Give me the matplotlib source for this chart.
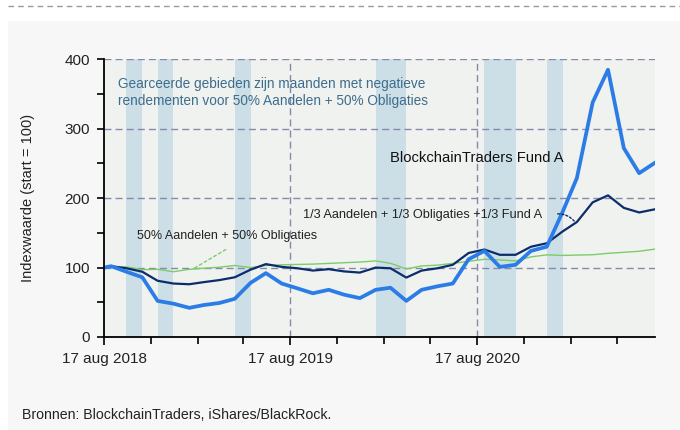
import matplotlib
matplotlib.use('Agg')
import matplotlib.pyplot as plt
from matplotlib.patches import Rectangle
from matplotlib.lines import Line2D
import pandas as pd

plt.rcParams['font.family'] = ['Liberation Sans', 'DejaVu Sans']

# data: start date, then month-end values
dates = [pd.Timestamp('2018-08-17')] + list(pd.date_range('2018-08-31', '2021-07-31', freq='ME'))

fund_a = [100, 102, 94, 86, 52, 48, 42, 46, 49, 55, 78, 92, 77, 70, 63, 68, 61, 56,
          68, 71, 52, 68, 73, 77, 112, 124, 101, 104, 124, 130, 180, 229, 338, 385,
          272, 236, 251]
mix_third = [100, 102, 99, 94, 81, 77, 76, 79, 82, 86, 97, 105, 101, 99, 95.7, 97.7,
             94.5, 92.8, 100, 99, 85.6, 95.7, 99, 104, 121, 126, 118.4, 118.4, 130,
             135, 152, 165.6, 194, 204, 186, 179.4, 184]
mix_half = [100, 100.8, 101, 97, 97.5, 94, 97.5, 99, 100.5, 103, 100, 103, 104, 104.5,
            105, 106, 107, 108, 109.6, 106.2, 98, 102.4, 103.5, 106, 109, 112, 111,
            109.6, 115.4, 118.3, 117.5, 118, 118.5, 120.5, 122, 123.5, 126.6]

# months with negative returns for 50/50 (start, end)
neg_months = [('2018-09-30', '2018-10-31'), ('2018-11-30', '2018-12-31'),
              ('2019-04-30', '2019-05-31'), ('2020-01-31', '2020-03-31'),
              ('2020-08-31', '2020-10-31'), ('2020-12-31', '2021-01-31')]

major_dates = ['2018-08-17', '2019-08-17', '2020-08-17']
major_labels = ['17 aug 2018', '17 aug 2019', '17 aug 2020']
minor_dates = ['2018-11-17', '2019-02-17', '2019-05-17', '2019-11-17', '2020-02-17',
               '2020-05-17', '2020-11-17', '2021-02-17', '2021-05-17']

fig = plt.figure(figsize=(6.8, 4.3), dpi=100, facecolor='white')

# grey panel and dashed top rule
fig.patches.append(Rectangle((8 / 680, 0), 1, 1 - 21 / 430, transform=fig.transFigure,
                             facecolor='#f7f7f7', edgecolor='none', zorder=-10))
fig.lines.append(Line2D([8 / 680, 1], [1 - 6 / 430, 1 - 6 / 430], transform=fig.transFigure,
                        color='#9a9a9a', lw=1, ls=(0, (4, 3))))

ax = fig.add_axes([104 / 680, 1 - 337 / 430, 551 / 680, 277.7 / 430])
ax.set_facecolor('#eff2ef')

for s, e in neg_months:
    ax.axvspan(pd.Timestamp(s), pd.Timestamp(e), color='#cddfe6', lw=0, zorder=1)

# grid
for v in [100, 200, 300, 400]:
    ax.axhline(v, color='#8888aa', lw=1, ls=(0, (5, 3)), zorder=2)
for d in major_dates[1:]:
    ax.axvline(pd.Timestamp(d), color='#8888aa', lw=1, ls=(0, (5, 3)), zorder=2)

ax.plot(dates, mix_half, color='#7ccc6a', lw=1.0, zorder=3)
ax.plot(dates, mix_third, color='#0c2d6b', lw=1.6, zorder=4)
ax.plot(dates, fund_a, color='#2b7ce6', lw=2.7, zorder=5)

ax.set_xlim(pd.Timestamp('2018-08-17'), pd.Timestamp('2021-07-31'))
ax.set_ylim(0, 400)

ax.set_xticks([pd.Timestamp(d) for d in major_dates])
ax.set_xticklabels(major_labels)
ax.set_xticks([pd.Timestamp(d) for d in minor_dates], minor=True)
ax.set_yticks([0, 100, 200, 300, 400])
ax.set_yticks([50, 150, 250, 350], minor=True)

ax.tick_params(axis='both', which='both', direction='out', length=5, width=1.2,
               colors='black', labelcolor='#222222', labelsize=11, pad=5)
ax.tick_params(axis='x', which='major', length=6, pad=5)

for side in ['top', 'right']:
    ax.spines[side].set_visible(False)
for side in ['left', 'bottom']:
    ax.spines[side].set_linewidth(1.3)
    ax.spines[side].set_zorder(6)

ax.set_ylabel('Indexwaarde (start = 100)', fontsize=10.5, color='#222222')
ax.yaxis.set_label_coords(-0.125, 0.5)

# annotations
ax.text(0.0254, 0.936, 'Gearceerde gebieden zijn maanden met negatieve\n'
        'rendementen voor 50% Aandelen + 50% Obligaties',
        transform=ax.transAxes, fontsize=9.8, color='#3e6d8d', va='top', ha='left',
        linespacing=1.3, zorder=7)
ax.text(0.519, 0.645, 'BlockchainTraders Fund A', transform=ax.transAxes,
        fontsize=10.6, color='#111111', va='center', ha='left', zorder=7)
ax.text(0.361, 0.439, '1/3 Aandelen + 1/3 Obligaties +1/3 Fund A', transform=ax.transAxes,
        fontsize=9.2, color='#222222', va='center', ha='left', zorder=7)
ax.text(0.060, 0.364, '50% Aandelen + 50% Obligaties', transform=ax.transAxes,
        fontsize=9.0, color='#222222', va='center', ha='left', zorder=7)

ax.annotate('', xy=(pd.Timestamp('2019-02-05'), 97), xytext=(pd.Timestamp('2019-04-17'), 128),
            arrowprops=dict(arrowstyle='-', color='#7ccc6a', lw=1, ls=(0, (2, 2))), zorder=7)
ax.annotate('', xy=(pd.Timestamp('2021-02-26'), 164), xytext=(pd.Timestamp('2021-01-16'), 177),
            arrowprops=dict(arrowstyle='-', color='#0c2d6b', lw=1, ls=(0, (1.5, 1.5)),
                            connectionstyle='arc3,rad=-0.3'), zorder=7)

fig.text(22 / 680, 1 - 415 / 430, 'Bronnen: BlockchainTraders, iShares/BlackRock.',
         fontsize=10.2, color='#222222', va='center', ha='left')

fig.savefig('out.png', dpi=100)
